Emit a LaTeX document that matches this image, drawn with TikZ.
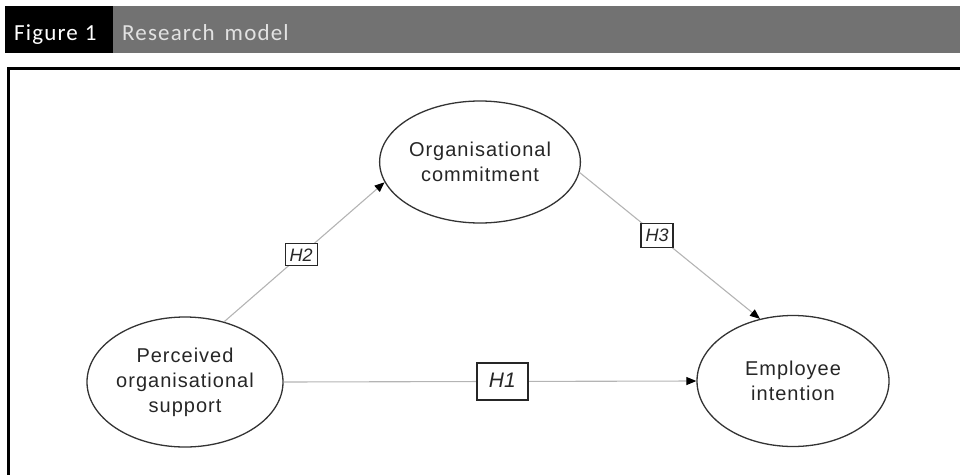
\documentclass[tikz,border=0pt]{standalone}
\usepackage{fontspec}
\setmainfont{Liberation Sans}
\newfontfamily\hdrfont[LetterSpace=5]{Carlito}
\newfontfamily\cfont[LetterSpace=5]{Liberation Sans}
\usetikzlibrary{shapes.geometric,arrows.meta}
\definecolor{hdrgray}{HTML}{727272}
\definecolor{hdrtext}{HTML}{E2E2E2}
\definecolor{linegray}{HTML}{B4B4B4}
\begin{document}
\begin{tikzpicture}[x=1pt,y=-1pt,
  construct/.style={ellipse,draw=black!80,line width=1.3pt,inner sep=0pt,
    align=center,font=\cfont\fontsize{20}{25}\selectfont,text=black!85},
  link/.style={draw=linegray,line width=1.1pt,
    -{Triangle[length=10pt,width=8pt,color=black]}},
  hyp/.style={draw=black!85,line width=1.3pt,fill=white,inner sep=0pt,
    text=black!85,text height=13pt,text depth=0pt},
  hdrlabel/.style={anchor=base west,inner sep=0pt,font=\hdrfont\fontsize{23}{23}\selectfont}
]
\useasboundingbox (0,0) rectangle (960,474);
\clip (0,0) rectangle (960,474);
% header bar
\fill[hdrgray] (113,6) rectangle (960,53);
\fill[black] (5,6) rectangle (113,53);
\node[hdrlabel,text=white] (fig) at (14,40) {Figure\hspace{7pt}1};
\node[hdrlabel,text=hdrtext] (title) at (122,40) {Research\hspace{10pt}model};
% frame
\draw[line width=3pt] (8,68) rectangle (990,500);
% constructs
\node[construct,minimum width=196pt,minimum height=122pt] (oc) at (480,162) {Organisational\\commitment};
\node[construct,minimum width=196pt,minimum height=130pt] (pos) at (185,382) {Perceived\\organisational\\support};
\node[construct,minimum width=192pt,minimum height=131pt] (ei) at (793,381) {Employee\\intention};
% paths
\draw[link] (pos.57) -- node[hyp,pos=0.48,minimum width=32pt,minimum height=22pt,font=\itshape\fontsize{18}{18}\selectfont] (h2) {H2} (oc.192);
\draw[link] (oc.354) -- node[hyp,pos=0.43,minimum width=32pt,minimum height=24pt,font=\itshape\fontsize{18}{18}\selectfont] (h3) {H3} (ei.118);
\draw[link] (pos.east) -- node[hyp,pos=0.53,minimum width=51pt,minimum height=37pt,font=\itshape\fontsize{21}{21}\selectfont] (h1) {H1} (ei.west);
\end{tikzpicture}
\end{document}
